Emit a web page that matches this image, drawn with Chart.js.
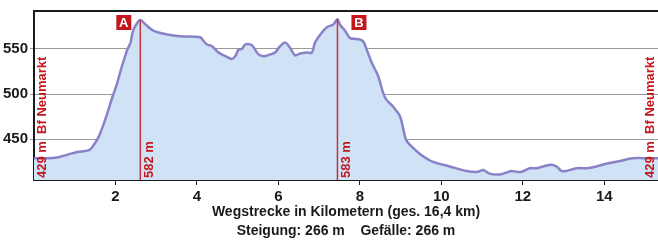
<!DOCTYPE html>
<html>
<head>
<meta charset="utf-8">
<script src="https://cdn.jsdelivr.net/npm/chart.js@4/dist/chart.umd.min.js"></script>
<style>
html,body{margin:0;padding:0;background:#fff;}
#wrap{width:658px;height:241px;}
</style>
</head>
<body>
<div id="wrap"><canvas id="c" width="658" height="241"></canvas></div>
<script>
// Elevation profile (km, m)
const distanceKm = [0.00,0.30,0.57,0.82,1.06,1.35,1.47,1.59,1.75,1.92,2.04,2.16,2.29,2.37,2.43,2.51,2.61,2.74,2.94,3.27,3.59,4.08,4.16,4.25,4.37,4.53,4.70,4.86,4.94,5.02,5.10,5.19,5.35,5.51,5.64,5.80,5.92,6.04,6.17,6.29,6.41,6.53,6.70,6.82,6.90,7.03,7.19,7.35,7.45,7.51,7.64,7.76,7.92,8.07,8.17,8.29,8.45,8.62,8.82,8.99,9.13,9.25,9.50,9.80,10.21,10.62,10.90,11.03,11.19,11.36,11.52,11.72,11.85,11.97,12.17,12.33,12.50,12.70,12.83,12.95,13.07,13.32,13.56,13.81,14.05,14.38,14.70,15.11,15.32];
const elevationM = [429,429,430,433,436,438,444,453,472,496,512,531,549,557,570,577,582,577,570,566,564,563,559,555,553,546,542,539,542,549,550,555,554,544,542,544,546,553,557,551,543,545,546,546,557,566,574,577,583,577,570,562,561,559,549,535,520,496,486,475,450,443,433,425,420,415,414,416,412,411,412,415,414,414,418,418,420,422,420,415,415,418,418,420,423,426,429,429,429];

// Markers
const markerLetters = ['A','B'];
const markerKm = [2.61, 7.45];
const markerElev = [582, 583];
const endLabels = ['429 m  Bf Neumarkt', '429 m  Bf Neumarkt'];

// Axes
const xTicks = [2,4,6,8,10,12,14];
const yTicks = [450,500,550];
const xTitle = ['Wegstrecke in Kilometern (ges. 16,4 km)', 'Steigung: 266 m    Gefälle: 266 m'];

const RED = '#c4161c';
const NARROW = '"Liberation Sans Narrow", "Arial Narrow", "Liberation Sans", sans-serif';

const profile = distanceKm.map((x,i)=>({x, y: elevationM[i]}));

const markerDatasets = markerKm.map((km,i)=>({
  type:'line',
  data:[{x:km,y:405},{x:km,y:markerElev[i]}],
  borderColor:'#c8323c',
  borderWidth:1.5,
  pointRadius:0,
  fill:false,
  tension:0,
  order:0
}));

const annot = {
  id:'annot',
  afterDraw(chart){
    const {ctx, chartArea:a, scales:{x,y}} = chart;
    ctx.save();
    // top border
    ctx.strokeStyle = '#1a1a1a';
    ctx.lineWidth = 2;
    ctx.beginPath(); ctx.moveTo(a.left-1, a.top); ctx.lineTo(a.right, a.top); ctx.stroke();
    // rotated labels
    const labelFont = 'bold 13px ' + NARROW;
    ctx.fillStyle = RED;
    ctx.font = labelFont;
    ctx.textAlign = 'left';
    ctx.textBaseline = 'middle';
    const rot = (txt, px) => {
      ctx.save(); ctx.translate(px, a.bottom - 2); ctx.rotate(-Math.PI/2);
      ctx.fillText(txt, 0, 0); ctx.restore();
    };
    rot(endLabels[0], a.left + 8);
    rot(endLabels[1], a.right - 8);
    markerKm.forEach((km,i)=>{
      const px = x.getPixelForValue(km);
      rot(markerElev[i] + ' m', px + 9);
      // letter box
      const bx = i === 0 ? px - 24 : px + 14;
      const by = a.top + 4;
      ctx.fillStyle = RED;
      ctx.fillRect(bx, by, 15, 15);
      ctx.fillStyle = '#fff';
      ctx.font = 'bold 13px "Liberation Sans", sans-serif';
      ctx.textAlign = 'center';
      ctx.fillText(markerLetters[i], bx + 7.5, by + 8);
      ctx.fillStyle = RED;
      ctx.font = labelFont;
      ctx.textAlign = 'left';
    });
    ctx.restore();
  }
};

new Chart(document.getElementById('c'), {
  type:'line',
  data:{
    datasets:[
      {
        data: profile,
        borderColor:'#8a82c6',
        borderWidth:2.5,
        backgroundColor:'#d0e2f6',
        fill:'start',
        pointRadius:0,
        tension:0.35,
        order:1
      },
      ...markerDatasets
    ]
  },
  options:{
    responsive:false,
    animation:false,
    devicePixelRatio:1,
    layout:{padding:{top:11,right:0,left:0,bottom:0}},
    plugins:{legend:{display:false},tooltip:{enabled:false}},
    scales:{
      x:{
        type:'linear',
        min:0,
        max:15.32,
        afterFit(s){ s.height = 61; },
        afterBuildTicks(s){ s.ticks = xTicks.map(v=>({value:v})); },
        ticks:{
          color:'#1a1a1a',
          font:{family:NARROW, size:15, weight:'bold'},
          padding:3,
          maxRotation:0,
          autoSkip:false
        },
        grid:{display:true, drawOnChartArea:false, tickLength:5, color:'#1a1a1a', lineWidth:1},
        border:{display:true, color:'#1a1a1a', width:2},
        title:{display:true, text:xTitle, color:'#1a1a1a', font:{family:NARROW, size:14, weight:'bold', lineHeight:1.36}, padding:{top:0,bottom:0}}
      },
      y:{
        type:'linear',
        min:405,
        max:592,
        z:1,
        afterFit(s){ s.width = 34; },
        afterBuildTicks(s){ s.ticks = yTicks.map(v=>({value:v})); },
        ticks:{
          color:'#1a1a1a',
          font:{family:NARROW, size:15, weight:'bold'},
          padding:2
        },
        grid:{color:'#999999', lineWidth:1, tickLength:4, drawTicks:true},
        border:{display:true, color:'#1a1a1a', width:2}
      }
    }
  },
  plugins:[annot]
});
</script>
</body>
</html>
